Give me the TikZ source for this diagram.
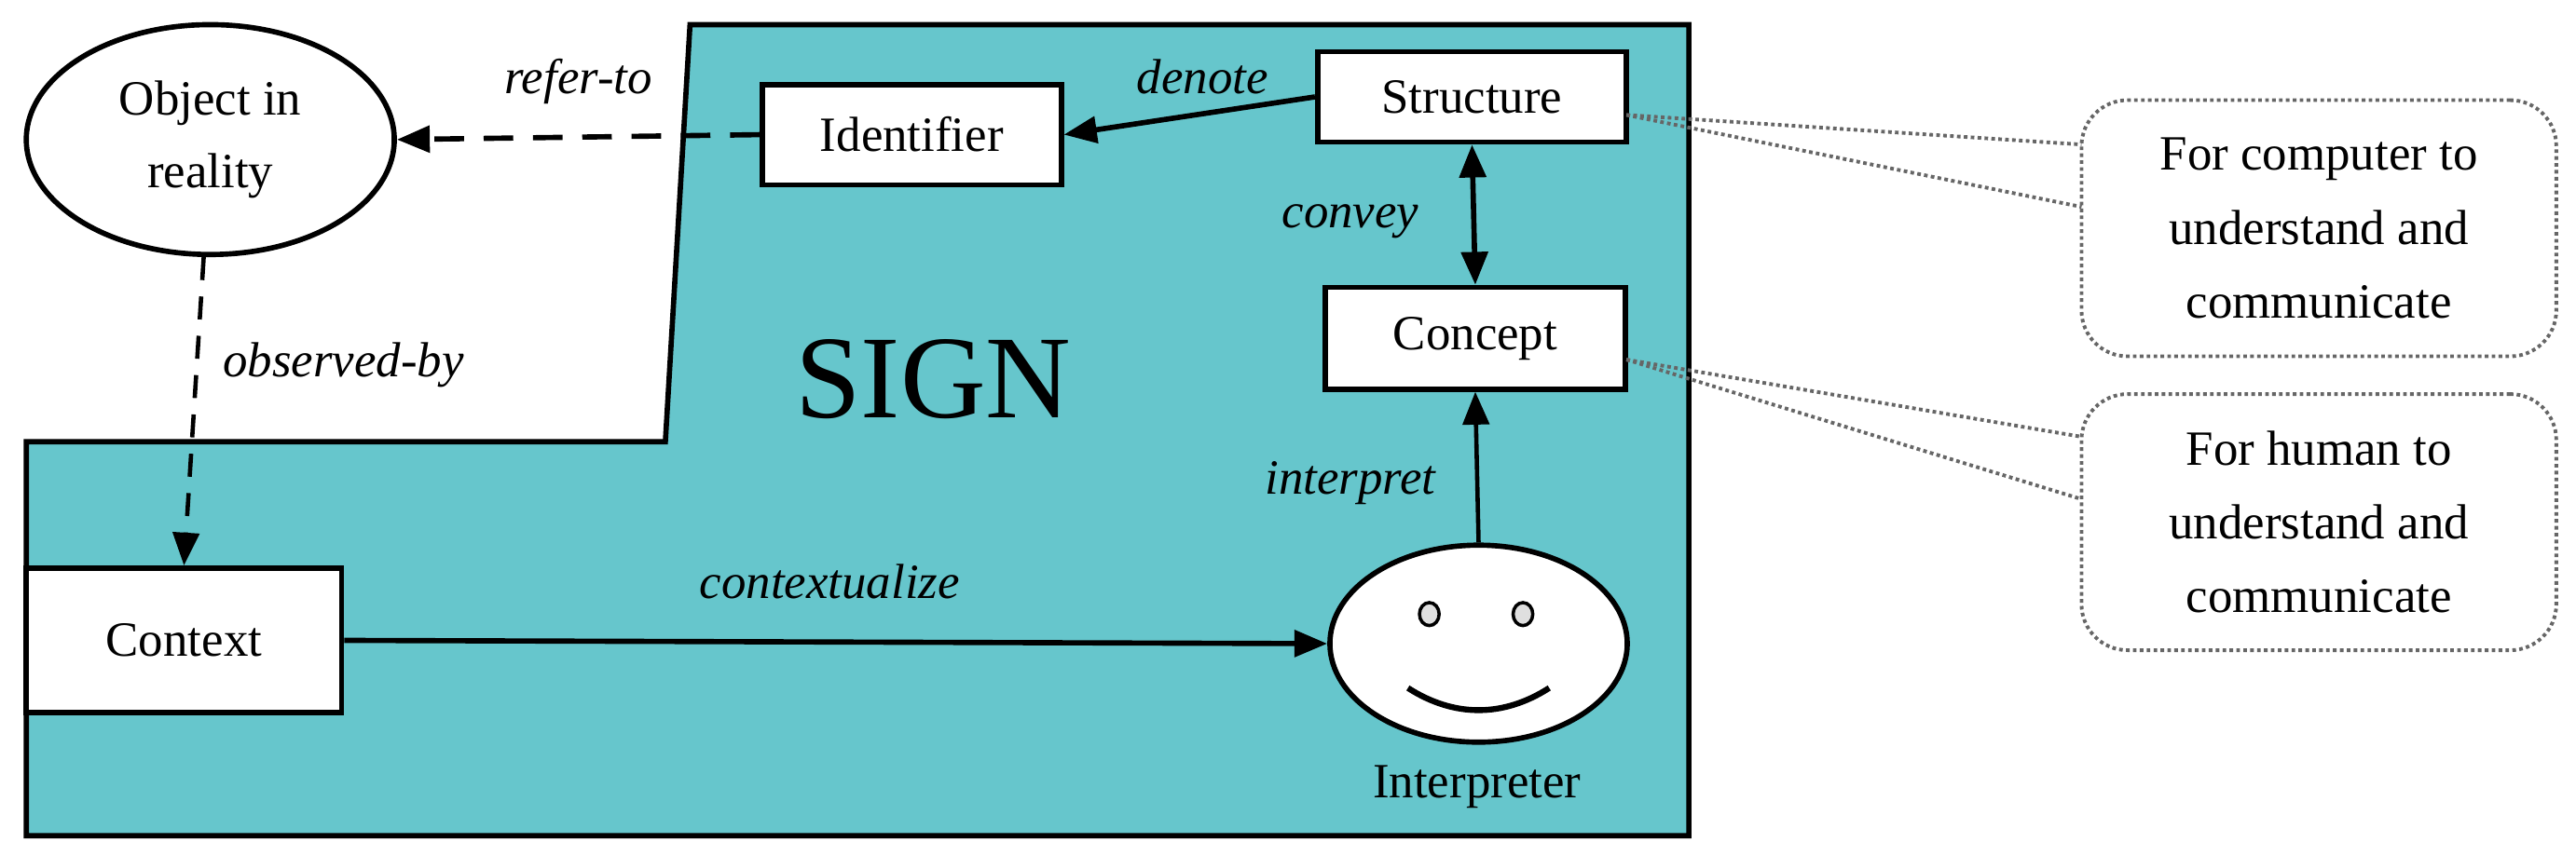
\documentclass[tikz,border=0pt]{standalone}
\usepackage{fontspec}
\setmainfont{Liberation Serif}
\usetikzlibrary{shapes.geometric,arrows.meta}
\definecolor{teal1}{HTML}{66C6CC}
\begin{document}
\begin{tikzpicture}[x=0.5pt,y=-0.5pt,
  box/.style={draw,line width=1.6pt,fill=white,inner sep=0pt,font=\fontsize{15}{18}\selectfont},
  lbl/.style={font=\fontsize{15}{18}\selectfont\itshape},
  tip/.style={-{Triangle[length=10pt,width=8pt]}},
  callout/.style={draw=gray!80!black,line width=1.1pt,densely dotted,rounded corners=14pt,align=center,minimum width=144.5pt,minimum height=78pt,inner sep=0pt,font=\fontsize{15}{22.5}\selectfont},
  dot/.style={draw=gray!80!black,line width=1.1pt,densely dotted}]
\useasboundingbox (0,0) rectangle (1568,521);
% sign region
\draw[fill=teal1,line width=1.6pt] (420,15) -- (1028,15) -- (1028,509) -- (16,509) -- (16,269) -- (405,269) -- cycle;
\node[font=\fontsize{36}{40}\selectfont] (sign) at (568,231) {SIGN};
% nodes
\node[draw,line width=1.6pt,fill=white,ellipse,minimum width=112pt,minimum height=70pt,inner sep=0pt,align=center,font=\fontsize{15}{22}\selectfont] (obj) at (128,85) {Object in\\reality};
\node[box,minimum width=91pt,minimum height=30.5pt] (id) at (555,82) {Identifier};
\node[box,minimum width=94pt,minimum height=27.5pt] (st) at (896,59) {Structure};
\node[box,minimum width=91.5pt,minimum height=31pt] (co) at (898,206) {Concept};
\node[box,minimum width=96pt,minimum height=44pt] (cx) at (112,390) {Context};
\node[draw,line width=1.6pt,fill=white,ellipse,minimum width=90.5pt,minimum height=60pt,inner sep=0pt] (face) at (900,392) {};
\node[draw,line width=1pt,fill=gray!25,ellipse,minimum width=6pt,minimum height=7pt,inner sep=0pt] (e1) at (870,374) {};
\node[draw,line width=1pt,fill=gray!25,ellipse,minimum width=6pt,minimum height=7pt,inner sep=0pt] (e2) at (927,374) {};
\draw[line width=1.8pt] (857,419) .. controls (885,437) and (915,437) .. (943,419);
\node[font=\fontsize{15}{18}\selectfont] (interp) at (899,479) {Interpreter};
% callouts
\node[callout] (c1) at (1411.5,139) {For computer to\\understand and\\communicate};
\node[callout] (c2) at (1411.5,318) {For human to\\understand and\\communicate};
\coordinate (c1a) at (1267,88);
\coordinate (c1b) at (1267,126);
\coordinate (c2a) at (1267,266);
\coordinate (c2b) at (1267,304);
\coordinate (s1) at (990,70);
\coordinate (s2) at (990,219);
\draw[dot] (s1) -- (c1a);
\draw[dot] (s1) -- (c1b);
\draw[dot] (s2) -- (c2a);
\draw[dot] (s2) -- (c2b);
% connectors
\draw[tip,line width=1.6pt,dash pattern=on 9pt off 6pt] (id.west) -- (obj.east) node[midway,above=6pt,lbl] {refer-to};
\draw[tip,line width=1.3pt,dash pattern=on 7pt off 5pt] (obj.south) ++(-4,0) coordinate (ob) (ob) -- (cx.north) node[pos=0.35,right=4pt,lbl] {observed-by};
\draw[tip,line width=1.6pt] (st.west) -- (id.east);
\node[lbl] (den) at (732,47) {denote};
\draw[{Triangle[length=10pt,width=8pt]}-{Triangle[length=10pt,width=8pt]},line width=1.6pt] (st.south) -- (co.north);
\node[lbl] (cv) at (822,135) {convey};
\draw[tip,line width=1.3pt] (face.north) -- (co.south);
\node[lbl] (it) at (822,294) {interpret};
\draw[tip,line width=1.6pt] (cx.east) -- (face.west);
\node[lbl] (ctx) at (505,354) {contextualize};
\end{tikzpicture}
\end{document}
